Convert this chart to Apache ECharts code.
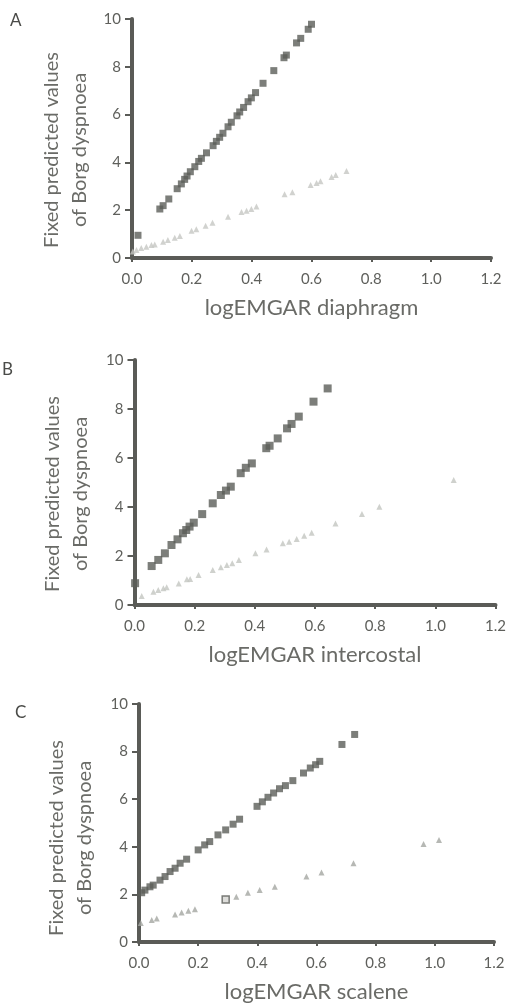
<!DOCTYPE html>
<html>
<head>
<meta charset="utf-8">
<script src="https://cdn.jsdelivr.net/npm/echarts@6/dist/echarts.min.js"></script>
<style>
  html, body { margin: 0; padding: 0; background: #ffffff; }
  #chart { width: 509px; height: 1005px; }
</style>
</head>
<body>
<div id="chart"></div>
<script>
// Panel letters and axis titles
const panelLetters = ['A', 'B', 'C'];
const xAxisTitles = ['logEMGAR diaphragm', 'logEMGAR intercostal', 'logEMGAR scalene'];
const yAxisTitle = 'Fixed predicted values\nof Borg dyspnoea';
const xTicks = [0.0, 0.2, 0.4, 0.6, 0.8, 1.0, 1.2];
const yTicks = [0, 2, 4, 6, 8, 10];

// A: diaphragm — squares (upper group) and triangles (lower group), [logEMGAR, Borg]
const diaphragmSquares = [
  [0.02, 0.95], [0.093, 2.05], [0.104, 2.19], [0.123, 2.47], [0.151, 2.9],
  [0.165, 3.1], [0.176, 3.29], [0.184, 3.43], [0.195, 3.61], [0.21, 3.82],
  [0.223, 4.04], [0.232, 4.17], [0.249, 4.4], [0.271, 4.7], [0.282, 4.88],
  [0.293, 5.05], [0.304, 5.22], [0.321, 5.49], [0.332, 5.68], [0.351, 5.95],
  [0.36, 6.11], [0.373, 6.3], [0.388, 6.54], [0.399, 6.7], [0.413, 6.92],
  [0.438, 7.31], [0.474, 7.84], [0.508, 8.38], [0.516, 8.49], [0.55, 9.0],
  [0.564, 9.19], [0.589, 9.57], [0.6, 9.78]
];
const diaphragmTriangles = [
  [0.003, 0.27], [0.015, 0.33], [0.031, 0.42], [0.048, 0.47], [0.065, 0.54],
  [0.076, 0.57], [0.104, 0.68], [0.12, 0.75], [0.143, 0.85], [0.16, 0.92],
  [0.199, 1.14], [0.215, 1.2], [0.246, 1.35], [0.269, 1.48], [0.321, 1.73],
  [0.366, 1.92], [0.383, 1.98], [0.399, 2.05], [0.416, 2.15], [0.51, 2.67],
  [0.536, 2.75], [0.597, 3.05], [0.617, 3.14], [0.63, 3.21], [0.667, 3.39],
  [0.681, 3.47], [0.717, 3.64]
];

// B: intercostal
const intercostalSquares = [
  [0.002, 0.89], [0.057, 1.59], [0.079, 1.84], [0.101, 2.11], [0.123, 2.45],
  [0.143, 2.68], [0.161, 2.93], [0.172, 3.06], [0.183, 3.2], [0.197, 3.36],
  [0.225, 3.71], [0.26, 4.15], [0.287, 4.49], [0.304, 4.67], [0.32, 4.83],
  [0.353, 5.38], [0.37, 5.6], [0.39, 5.78], [0.438, 6.4], [0.449, 6.5],
  [0.476, 6.8], [0.507, 7.21], [0.522, 7.39], [0.546, 7.69], [0.595, 8.3],
  [0.642, 8.84]
];
const intercostalTriangles = [
  [0.024, 0.37], [0.063, 0.54], [0.079, 0.61], [0.096, 0.68], [0.107, 0.72],
  [0.147, 0.88], [0.174, 1.05], [0.185, 1.06], [0.213, 1.22], [0.26, 1.43],
  [0.287, 1.54], [0.307, 1.63], [0.325, 1.7], [0.347, 1.84], [0.402, 2.11],
  [0.439, 2.27], [0.493, 2.52], [0.514, 2.58], [0.539, 2.69], [0.564, 2.83],
  [0.589, 2.95], [0.668, 3.33], [0.756, 3.71], [0.814, 4.01], [1.061, 5.1]
];

// C: scalene
const scaleneSquares = [
  [0.009, 2.07], [0.02, 2.18], [0.037, 2.32], [0.048, 2.39], [0.071, 2.6],
  [0.088, 2.75], [0.105, 2.96], [0.122, 3.1], [0.139, 3.31], [0.161, 3.48],
  [0.2, 3.87], [0.222, 4.08], [0.239, 4.22], [0.267, 4.5], [0.293, 4.71],
  [0.318, 4.95], [0.34, 5.16], [0.399, 5.7], [0.417, 5.89], [0.436, 6.08],
  [0.455, 6.26], [0.475, 6.44], [0.495, 6.57], [0.52, 6.78], [0.556, 7.1],
  [0.579, 7.31], [0.597, 7.45], [0.611, 7.59], [0.686, 8.3], [0.729, 8.72]
];
const scaleneOpenSquares = [[0.293, 1.79]];
const scaleneTriangles = [
  [0.006, 0.8], [0.043, 0.92], [0.06, 0.99], [0.122, 1.16], [0.144, 1.24],
  [0.167, 1.31], [0.189, 1.38], [0.329, 1.9], [0.368, 2.07], [0.408, 2.18],
  [0.459, 2.32], [0.566, 2.75], [0.617, 2.92], [0.725, 3.31], [0.962, 4.12],
  [1.014, 4.29]
];

const FONT = 'Lato';
const AXIS_COLOR = '#5a5b57';
const TEXT_COLOR = '#5f605c';
const TITLE_COLOR = '#6a6b67';
const SQUARE_COLOR = '#5b5e59';

// Plot areas of the three stacked panels
const grids = [
  { left: 132, top: 19, width: 359, height: 239 },
  { left: 134.5, top: 360, width: 365, height: 245 },
  { left: 139, top: 704, width: 355, height: 238 }
];
// Placement of panel letters and the rotated y titles
const letterPos = [[10, 12], [2, 361], [15, 704]];
const yTitleCenter = [[66, 150], [67, 494], [71, 838]];

function xAxisFor(i) {
  return {
    type: 'value', gridIndex: i, min: 0, max: 1.2, interval: 0.2,
    name: xAxisTitles[i], nameLocation: 'middle', nameGap: 39,
    nameTextStyle: { fontFamily: FONT, fontSize: 22, color: TITLE_COLOR },
    axisLine: { show: true, onZero: false, lineStyle: { color: AXIS_COLOR, width: 4 } },
    axisTick: { show: true, length: 4, lineStyle: { color: AXIS_COLOR, width: 2 } },
    axisLabel: {
      margin: 14, fontFamily: FONT, fontSize: 15, color: TEXT_COLOR,
      formatter: v => v.toFixed(1)
    },
    splitLine: { show: false }
  };
}

function yAxisFor(i) {
  return {
    type: 'value', gridIndex: i, min: 0, max: 10, interval: 2,
    axisLine: { show: true, onZero: false, lineStyle: { color: AXIS_COLOR, width: 4 } },
    axisTick: { show: true, length: 7, lineStyle: { color: AXIS_COLOR, width: 2 } },
    axisLabel: { margin: 11, fontFamily: FONT, fontSize: 15, color: TEXT_COLOR },
    splitLine: { show: false }
  };
}

function squares(i, data, size) {
  return {
    type: 'scatter', xAxisIndex: i, yAxisIndex: i, data: data,
    symbol: 'rect', symbolSize: size,
    itemStyle: { color: SQUARE_COLOR }, z: 3
  };
}
function triangles(i, data, color, size) {
  return {
    type: 'scatter', xAxisIndex: i, yAxisIndex: i, data: data,
    symbol: 'triangle', symbolSize: size,
    itemStyle: { color: color }, z: 2
  };
}

const letters = panelLetters.map((t, i) => ({
  type: 'text', x: letterPos[i][0], y: letterPos[i][1],
  style: { text: t, fontFamily: FONT, fontSize: 17, fill: '#4a4b48' }
}));
const yTitles = yTitleCenter.map(c => ({
  type: 'text', x: c[0], y: c[1], rotation: Math.PI / 2,
  style: {
    text: yAxisTitle, fontFamily: FONT, fontSize: 20, lineHeight: 28,
    fill: TITLE_COLOR, align: 'center', verticalAlign: 'middle'
  }
}));

const chart = echarts.init(document.getElementById('chart'), null, { renderer: 'canvas' });
chart.setOption({
  backgroundColor: '#ffffff',
  animation: false,
  textStyle: { fontFamily: FONT },
  grid: grids,
  xAxis: [0, 1, 2].map(xAxisFor),
  yAxis: [0, 1, 2].map(yAxisFor),
  graphic: letters.concat(yTitles),
  series: [
    triangles(0, diaphragmTriangles, '#c6c7c3', 6),
    squares(0, diaphragmSquares, 7),
    triangles(1, intercostalTriangles, '#c3c5c0', 6),
    squares(1, intercostalSquares, 8),
    triangles(2, scaleneTriangles, '#a4a6a1', 6),
    squares(2, scaleneSquares, 7),
    {
      type: 'scatter', xAxisIndex: 2, yAxisIndex: 2, data: scaleneOpenSquares,
      symbol: 'rect', symbolSize: 7,
      itemStyle: { color: '#d4d5d1', borderColor: SQUARE_COLOR, borderWidth: 1.5 }, z: 3
    }
  ]
});
</script>
</body>
</html>
